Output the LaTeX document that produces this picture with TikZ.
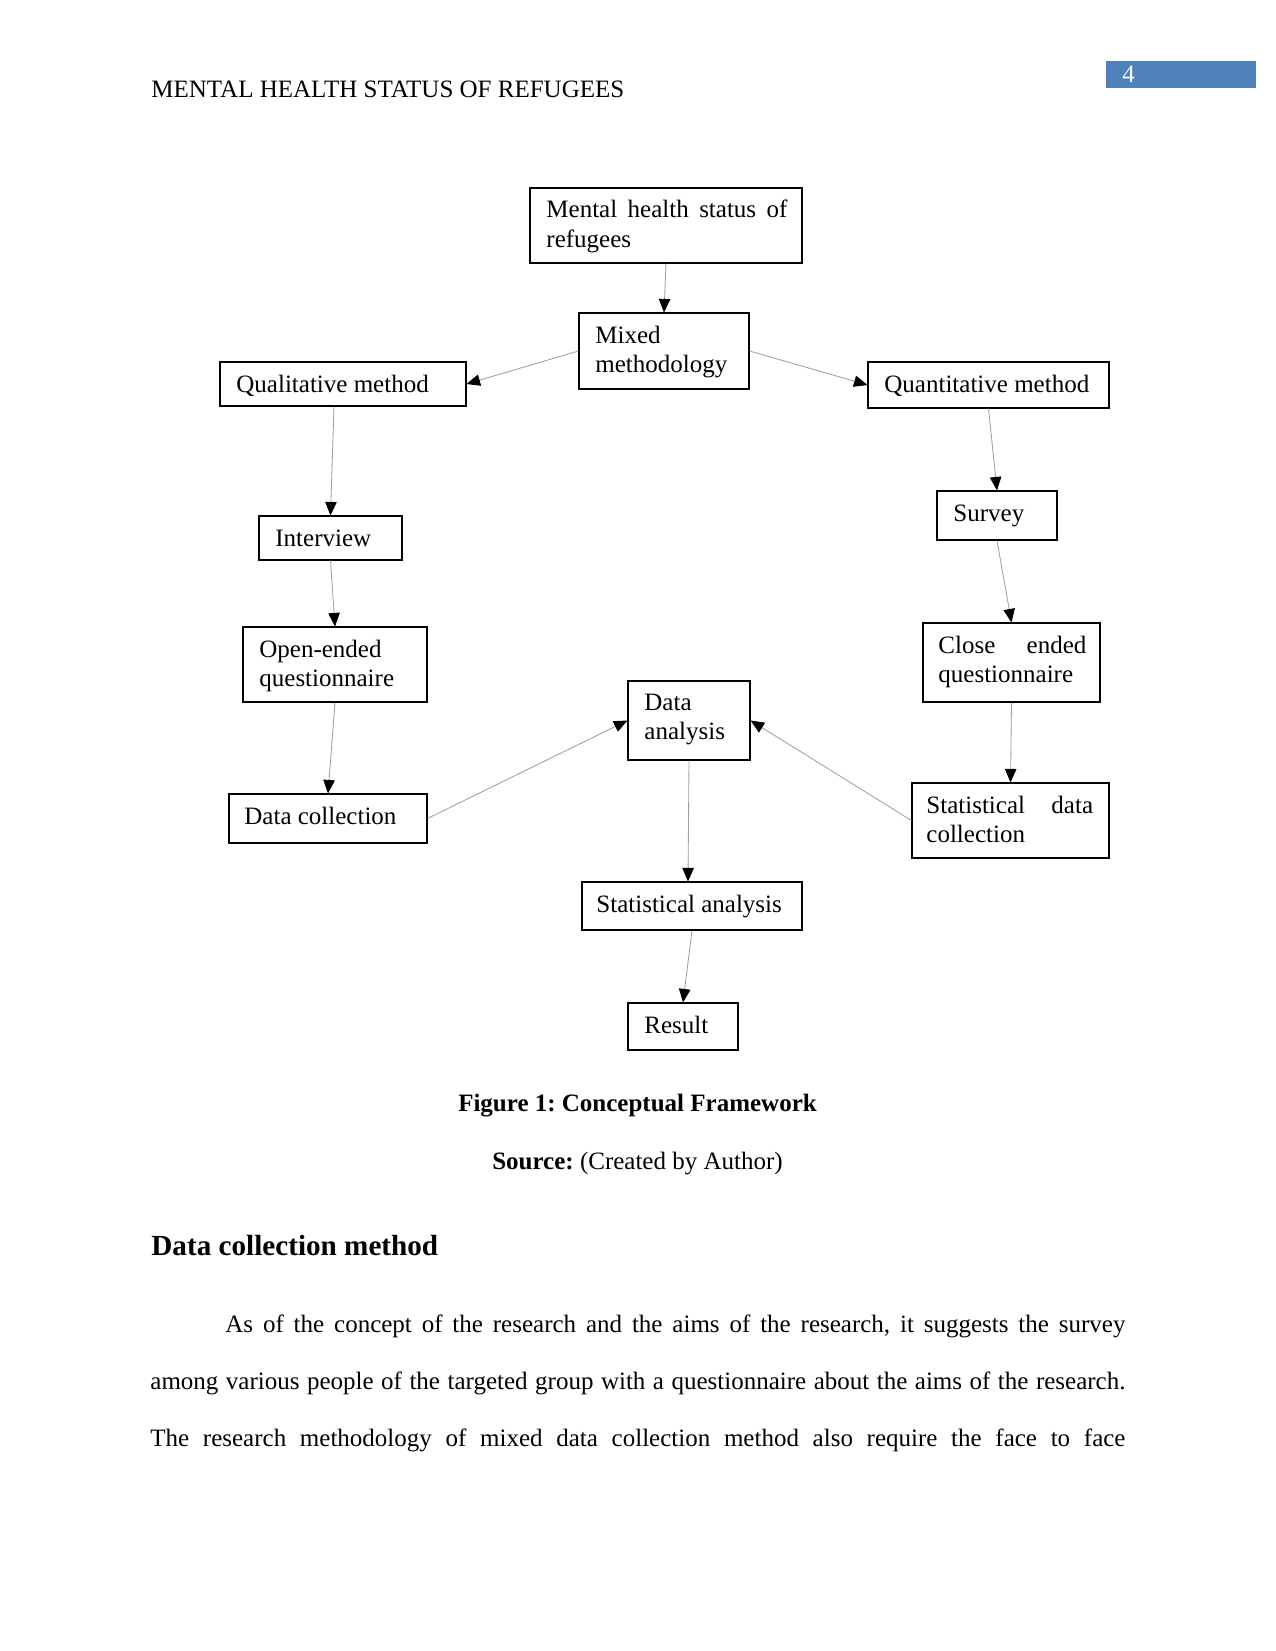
\documentclass[tikz,border=0pt]{standalone}
\usepackage{fontspec}
\setmainfont{Liberation Serif}
\usetikzlibrary{arrows.meta,calc,fit}
\definecolor{pgblue}{HTML}{4F81BD}
\frenchspacing
\begin{document}
\begin{tikzpicture}[x=0.48pt,y=-0.48pt,
  box/.style={draw=black,line width=0.5pt,inner sep=0pt},
  txt/.style={anchor=base west,inner sep=0pt,font=\fontsize{12}{13.8}\selectfont\frenchspacing},
  conn/.style={draw=gray!75,line width=0.4pt,-{Triangle[length=6.5pt,width=5.5pt,color=black]}}]
\useasboundingbox[fill=white] (0,0) rectangle (1275,1651);

% header
\node[txt] (header) at (151,98) {MENTAL HEALTH STATUS OF REFUGEES};
\node[fill=pgblue,inner sep=0pt,fit={(1106,61) (1256,88)}] (pgbox) {};
\node[txt,text=white] (pgnum) at (1122,83) {4};

% boxes
\node[box,fit={(530,188) (802,263)}] (mental) {};
\node[box,fit={(579,313) (749,389)}] (mixed) {};
\node[box,fit={(220,362) (466,406)}] (qual) {};
\node[box,fit={(868,362) (1109,408)}] (quant) {};
\node[box,fit={(259,516) (402,560)}] (interview) {};
\node[box,fit={(937,491) (1057,540)}] (survey) {};
\node[box,fit={(243,627) (427,702)}] (openq) {};
\node[box,fit={(923,623) (1100,702)}] (closeq) {};
\node[box,fit={(628,681) (750,760)}] (da) {};
\node[box,fit={(229,794) (427,843)}] (datacoll) {};
\node[box,fit={(912,783) (1109,858)}] (statdata) {};
\node[box,fit={(582,882) (802,930)}] (sa) {};
\node[box,fit={(628,1003) (738,1050)}] (result) {};

% box texts
\node[txt] (mentalA) at (546,218) {\makebox[115.7pt][s]{Mental health status of}};
\node[txt] (mentalB) at (546,247) {refugees};
\node[txt] (mixedA) at (595,343) {Mixed};
\node[txt] (mixedB) at (595,372) {methodology};
\node[txt] (qualT) at (236,392) {Qualitative method};
\node[txt] (quantT) at (884,392) {Quantitative method};
\node[txt] (interviewT) at (275,546) {Interview};
\node[txt] (surveyT) at (953,521) {Survey};
\node[txt] (openA) at (259,657) {Open-ended};
\node[txt] (openB) at (259,686) {questionnaire};
\node[txt] (closeA) at (938,653) {\makebox[71pt][s]{Close ended}};
\node[txt] (closeB) at (938,682) {questionnaire};
\node[txt] (daA) at (644,710) {Data};
\node[txt] (daB) at (644,739) {analysis};
\node[txt] (datacollT) at (244,824) {Data collection};
\node[txt] (statA) at (926,813) {\makebox[80pt][s]{Statistical data}};
\node[txt] (statB) at (926,842) {collection};
\node[txt] (saT) at (596,912) {Statistical analysis};
\node[txt] (resultT) at (644,1033) {Result};

% connectors
\draw[conn] (mental.south) -- (mixed.north);
\draw[conn] (mixed.west) -- (qual.east);
\draw[conn] (mixed.east) -- (quant.west);
\draw[conn] ($(qual.south)+(-9,0)$) -- (interview.north);
\draw[conn] (interview.south) -- (openq.north);
\draw[conn] (openq.south) -- (datacoll.north);
\draw[conn] (quant.south) -- (survey.north);
\draw[conn] (survey.south) -- (closeq.north);
\draw[conn] (closeq.south) -- (statdata.north);
\draw[conn] (datacoll.east) -- (da.west);
\draw[conn] (statdata.west) -- (da.east);
\draw[conn] (da.south) -- ($(sa.north)+(-4,0)$);
\draw[conn] (sa.south) -- (result.north);

% caption and text
\node[anchor=base,inner sep=0pt,font=\fontsize{12}{13.8}\selectfont\bfseries\frenchspacing] (cap) at (637.5,1111) {Figure 1: Conceptual Framework};
\node[anchor=base,inner sep=0pt,font=\fontsize{12}{13.8}\selectfont\frenchspacing] (src) at (637.5,1169) {\textbf{Source:} (Created by Author)};
\node[txt,font=\fontsize{14}{16}\selectfont\bfseries] (head) at (151,1255) {Data collection method};
\node[txt] (p1) at (225,1332) {\makebox[432pt][s]{As of the concept of the research and the aims of the research, it suggests the survey}};
\node[txt] (p2) at (150,1389) {\makebox[468pt][s]{among various people of the targeted group with a questionnaire about the aims of the research.}};
\node[txt] (p3) at (150,1446) {\makebox[468pt][s]{The research methodology of mixed data collection method also require the face to face}};
\end{tikzpicture}
\end{document}
